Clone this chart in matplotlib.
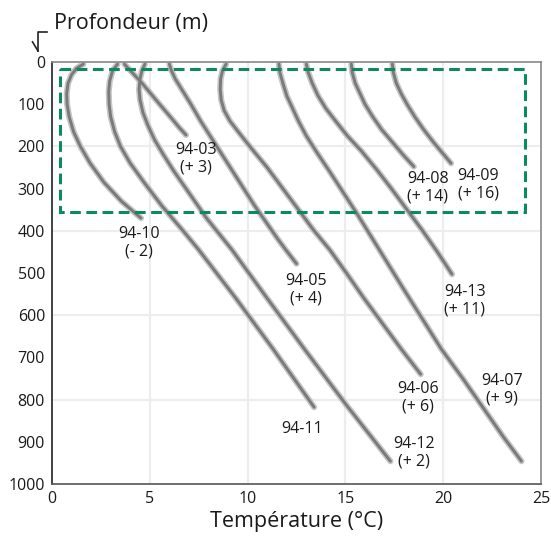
import matplotlib
matplotlib.use('Agg')
import matplotlib.pyplot as plt
from matplotlib.lines import Line2D
import matplotlib.patches as patches
import numpy as np

plt.rc('font', family='Open Sans', size=11.5)

# temperature (C) and depth (m)
names = ['94-10', '94-11', '94-03', '94-12', '94-05', '94-06', '94-07', '94-13', '94-08', '94-09']
temps = {
 '94-10': [1.6, 1.25, 1.0, 0.82, 0.75, 0.77, 0.88, 1.1, 1.45, 1.95, 2.65, 3.55, 4.55],
 '94-11': [3.35, 3.1, 2.95, 2.9, 2.92, 3.0, 3.2, 3.5, 4.0, 4.7, 5.6, 6.7, 7.5, 9.4, 11.3, 13.4],
 '94-03': [3.7, 3.9, 4.2, 4.6, 5.05, 5.5, 6.05, 6.5, 6.85],
 '94-12': [4.75, 4.6, 4.5, 4.45, 4.5, 4.65, 4.9, 5.25, 5.7, 6.25, 7.0, 7.9, 9.2, 11.0, 12.9, 15.0, 17.3],
 '94-05': [6.0, 6.1, 6.3, 6.7, 7.1, 7.6, 8.15, 8.7, 9.25, 9.8, 10.35, 10.95, 11.55, 11.95, 12.5],
 '94-06': [8.9, 8.72, 8.62, 8.6, 8.65, 8.8, 9.1, 9.6, 10.2, 11.0, 11.8, 12.6, 13.4, 14.2, 15.05, 15.95, 16.9, 17.85, 18.85],
 '94-07': [11.6, 11.65, 11.8, 12.0, 12.3, 12.6, 13.0, 13.55, 14.2, 14.9, 15.6, 16.4, 17.2, 18.0, 18.95, 19.9, 21.0, 22.05, 23.1, 24.0],
 '94-13': [13.0, 13.1, 13.3, 13.6, 14.0, 14.5, 15.1, 15.8, 16.6, 17.35, 18.15, 18.95, 19.7, 20.45],
 '94-08': [15.3, 15.35, 15.5, 15.75, 16.0, 16.4, 16.85, 17.4, 17.95, 18.5],
 '94-09': [17.4, 17.45, 17.6, 17.85, 18.15, 18.55, 19.0, 19.5, 19.95, 20.4],
}
depths = {
 '94-10': [5, 15, 30, 50, 75, 100, 130, 165, 200, 240, 285, 330, 370],
 '94-11': [5, 20, 45, 70, 100, 130, 165, 200, 240, 285, 340, 400, 445, 560, 680, 818],
 '94-03': [5, 15, 30, 50, 75, 100, 130, 155, 173],
 '94-12': [5, 20, 40, 65, 90, 120, 150, 185, 220, 260, 310, 370, 445, 560, 680, 810, 946],
 '94-05': [5, 20, 40, 70, 100, 140, 180, 220, 260, 300, 340, 380, 420, 445, 478],
 '94-06': [5, 20, 40, 65, 90, 115, 140, 170, 205, 250, 300, 350, 400, 445, 500, 560, 620, 680, 740],
 '94-07': [5, 25, 50, 80, 110, 140, 175, 215, 260, 310, 360, 420, 480, 540, 610, 680, 750, 820, 890, 946],
 '94-13': [5, 25, 50, 80, 110, 140, 175, 210, 255, 300, 350, 400, 450, 503],
 '94-08': [5, 25, 50, 75, 100, 130, 160, 190, 220, 248],
 '94-09': [5, 25, 50, 75, 100, 130, 160, 190, 215, 240],
}
# label text and centre position (T, depth)
labels = {
 '94-10': ('94-10\n(- 2)', 4.45, 428),
 '94-11': ('94-11', 12.8, 869),
 '94-03': ('94-03\n(+ 3)', 7.35, 230),
 '94-12': ('94-12\n(+ 2)', 18.5, 925),
 '94-05': ('94-05\n(+ 4)', 13.0, 540),
 '94-06': ('94-06\n(+ 6)', 18.7, 796),
 '94-07': ('94-07\n(+ 9)', 23.0, 777),
 '94-13': ('94-13\n(+ 11)', 21.1, 565),
 '94-08': ('94-08\n(+ 14)', 19.2, 298),
 '94-09': ('94-09\n(+ 16)', 21.8, 291),
}
box_t = [0.4, 24.2]
box_d = [17, 355]

#############################################

fig = plt.figure(figsize=(5.51, 5.37), dpi=100)
ax = fig.add_axes([0.0944, 0.0987, 0.8875, 0.7858])

for v in [5, 10, 15, 20]:
  ax.axvline(v, color='#ededed', lw=1.6, zorder=0)
for h in [200, 400, 600, 800]:
  ax.axhline(h, color='#ededed', lw=1.6, zorder=0)

for n in names:
  ax.plot(temps[n], depths[n], color='#c6c6c6', lw=4.4, solid_capstyle='round', solid_joinstyle='round', zorder=2)
  ax.plot(temps[n], depths[n], color='#7a7a7a', lw=2.1, solid_capstyle='round', solid_joinstyle='round', zorder=3)
  txt, tx, ty = labels[n]
  ax.text(tx, ty, txt, ha='center', va='center', fontsize=11.5, color='#1a1a1a', linespacing=1.12, zorder=5)

rect = patches.Rectangle((box_t[0], box_d[0]), box_t[1]-box_t[0], box_d[1]-box_d[0], fill=False,
                         edgecolor='#0b8a5e', lw=2.2, ls=(0, (3.5, 1.8)), zorder=4)
ax.add_patch(rect)

ax.set_xlim(0, 25)
ax.set_ylim(1000, 0)
ax.set_xticks(np.arange(0, 26, 5))
ax.set_yticks(np.arange(0, 1001, 100))
ax.tick_params(axis='both', length=0, labelsize=11.5, colors='#1a1a1a')
ax.tick_params(axis='x', pad=5)
ax.tick_params(axis='y', pad=5)

ax.spines['left'].set_color('#222222')
ax.spines['bottom'].set_color('#555555')
ax.spines['top'].set_color('#888888')
ax.spines['right'].set_color('#888888')
for s in ax.spines.values():
  s.set_linewidth(1.2)

ax.set_xlabel('Température (°C)', fontsize=15.5, color='#1a1a1a', labelpad=3)
fig.text(0.098, 0.957, 'Profondeur (m)', fontsize=15.5, color='#1a1a1a', ha='left', va='center')

# small hooked arrow next to the depth label
fig.add_artist(Line2D([0.069, 0.069, 0.085], [0.905, 0.940, 0.940], color='#222222', lw=1.2))
fig.add_artist(Line2D([0.059, 0.069], [0.922, 0.905], color='#222222', lw=1.2))

plt.savefig('out.png', dpi=100)
